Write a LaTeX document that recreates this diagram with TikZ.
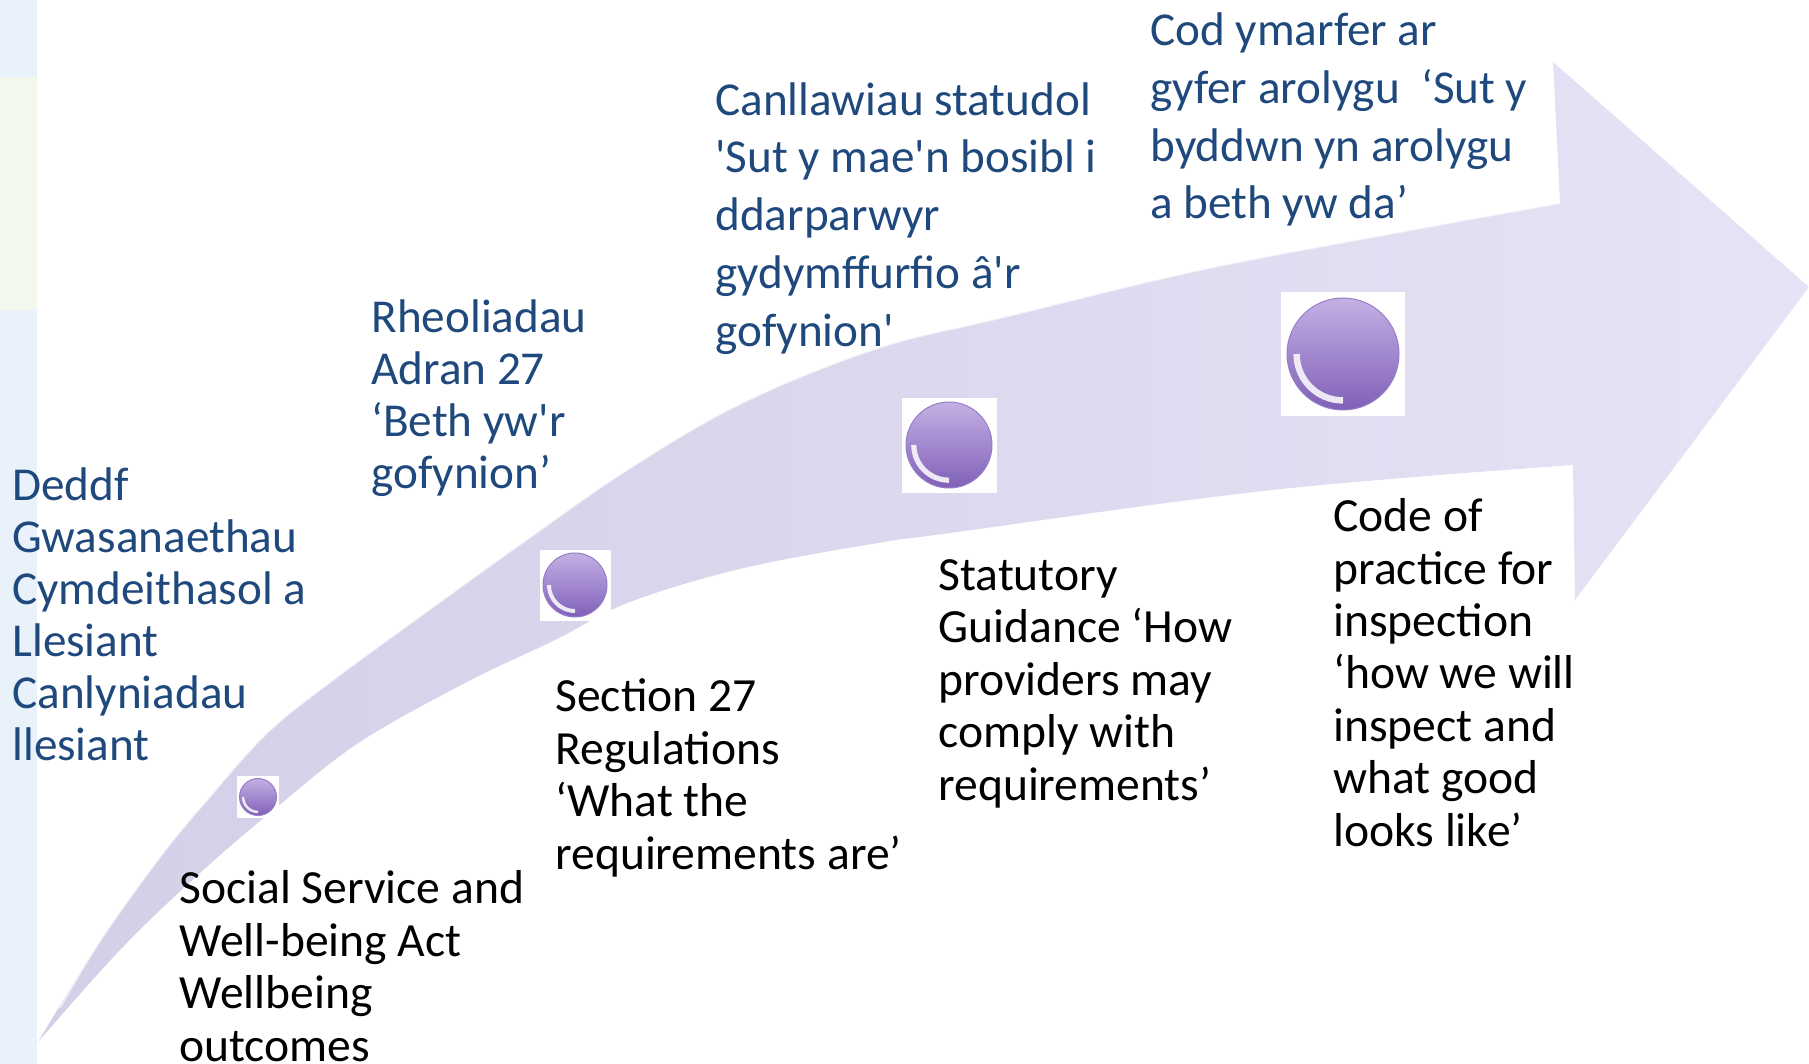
\documentclass[tikz,border=0pt]{standalone}
\usepackage{fontspec}
\setmainfont{Carlito}
\definecolor{cymru}{RGB}{31,73,125}
\definecolor{stripblue}{RGB}{233,241,250}
\definecolor{stripgreen}{RGB}{242,248,237}
\definecolor{tailcol}{RGB}{212,206,231}
\definecolor{headcol}{RGB}{231,226,245}
\definecolor{beadtop}{RGB}{196,176,228}
\definecolor{beadbot}{RGB}{128,96,184}
\definecolor{beadrim}{RGB}{150,125,200}

\begin{document}
\begin{tikzpicture}[x=0.5pt,y=0.5pt,yscale=-1,
  welsh/.style={anchor=base west, inner sep=0pt, align=left, text=cymru,
    font=\fontsize{23.6}{26}\selectfont},
  wide/.style={font=\fontsize{23.6}{28.85}\selectfont},
  english/.style={anchor=base west, inner sep=0pt, align=left, text=black,
    font=\fontsize{23.8}{26.2}\selectfont},
  beadbox/.style={rectangle, fill=white, inner sep=0pt, minimum size=#1},
  bead/.style={circle, inner sep=0pt, top color=beadtop, bottom color=beadbot,
    draw=beadrim, line width=0.5pt,
    path picture={\draw[white, opacity=.85, line width=#1]
      ([xshift=1.5*#1]path picture bounding box.west) to[out=-90,in=180]
      ([yshift=1.5*#1]path picture bounding box.south);}}]
\useasboundingbox (0,0) rectangle (1809,1064);

% side strip
\fill[stripblue] (0,0) rectangle (37,1064);
\fill[stripgreen] (0,77) rectangle (37,310);

% curved arrow
\shade[left color=tailcol, right color=headcol]
  plot[smooth, tension=0.6] coordinates {(38,1042) (100,941) (160,857) (207,800) (267,733) (333,680) (433,607) (515,548) (630,468) (744,402) (878,348) (1000,318) (1200,270) (1400,232) (1560,203)}
  -- (1553,62) -- (1809,287) -- (1575,600) -- (1573,465)
  -- plot[smooth, tension=0.6] coordinates {(1573,465) (1272,490) (950,533) (878,543) (744,568) (630,602) (555,640) (467,682) (360,742) (277,807) (200,873) (120,950) (38,1042)}
  -- cycle;
\draw[white, opacity=.6, line width=1pt]
  plot[smooth, tension=0.6] coordinates {(60,1008) (100,941) (160,857) (207,800) (267,733) (333,680) (433,607) (515,548) (630,468) (744,402) (878,348) (1000,318) (1200,270) (1400,232) (1560,203)};

% beads
\node[beadbox=21pt] (b1) at (258,797) {};
\node[bead=1.2pt, minimum size=18.5pt] at (b1) {};
\node[beadbox=35.5pt] (b2) at (575,585) {};
\node[bead=2pt, minimum size=32pt] at (b2) {};
\node[beadbox=47.5pt] (b3) at (949,445) {};
\node[bead=2.6pt, minimum size=43pt] at (b3) {};
\node[beadbox=62pt] (b4) at (1343,354) {};
\node[bead=3.2pt, minimum size=56pt] at (b4) {};

% welsh labels (placed by the baseline of the last line)
\node[welsh] (deddf) at (12,760) {Deddf\\Gwasanaethau\\Cymdeithasol a\\Llesiant\\Canlyniadau\\llesiant};
\node[welsh] (rheol) at (371,488) {Rheoliadau\\Adran 27\\‘Beth yw\textquotesingle r\\gofynion’};
\node[welsh, wide] (canll) at (715,346) {Canllawiau statudol\\\textquotesingle Sut y mae\textquotesingle n bosibl i\\ddarparwyr\\gydymffurfio â\textquotesingle r\\gofynion\textquotesingle};
\node[welsh, wide] (cod) at (1150,219) {Cod ymarfer ar\\gyfer arolygu\ \ ‘Sut y\\byddwn yn arolygu\\a beth yw da’};

% english labels
\node[english] (act) at (179,1061) {Social Service and\\Well-being Act\\Wellbeing\\outcomes};
\node[english] (regs) at (555,869) {Section 27\\Regulations\\‘What the\\requirements are’};
\node[english] (guide) at (938,800) {Statutory\\Guidance ‘How\\providers may\\comply with\\requirements’};
\node[english] (code) at (1333,846) {Code of\\practice for\\inspection\\‘how we will\\inspect and\\what good\\looks like’};
\end{tikzpicture}
\end{document}
